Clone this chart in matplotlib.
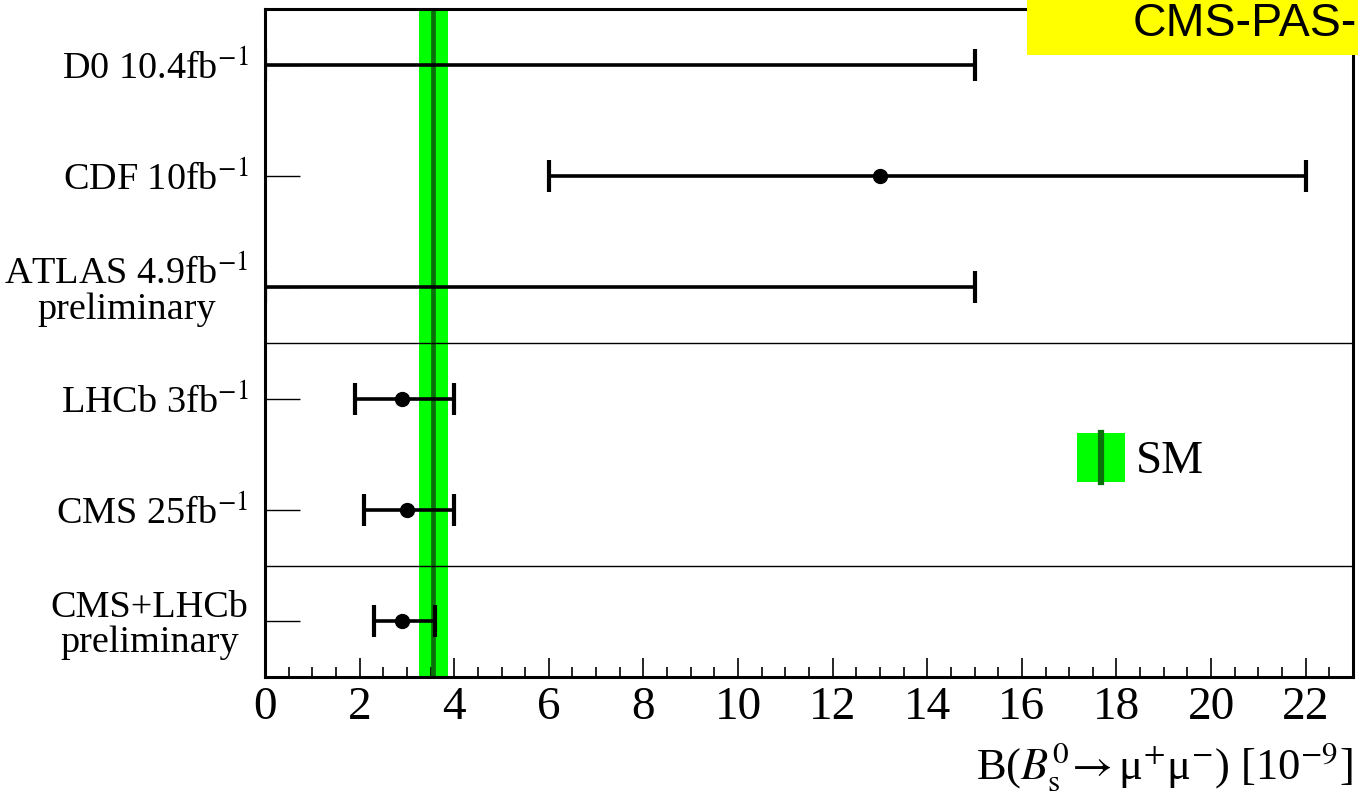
import numpy as np
import matplotlib
matplotlib.use("Agg")
import matplotlib.pyplot as plt
from matplotlib.patches import Rectangle

plt.rcParams['font.family'] = ['Liberation Serif', 'DejaVu Serif']
plt.rcParams['mathtext.fontset'] = 'stix'

# measurements of B(Bs -> mu mu) in units of 1e-9
labels = ["D0 10.4fb$^{-1}$", "CDF 10fb$^{-1}$", "ATLAS 4.9fb$^{-1}$\npreliminary",
          "LHCb 3fb$^{-1}$", "CMS 25fb$^{-1}$", "CMS+LHCb\npreliminary"]
central = [np.nan, 13.0, np.nan, 2.9, 3.0, 2.9]
low = [0.0, 6.0, 0.0, 1.9, 2.1, 2.3]
high = [15.0, 22.0, 15.0, 4.0, 4.0, 3.6]
separators = [3, 5]

# standard model prediction
sm_value = 3.56
sm_err = 0.30

W, H = 1358, 800
fig = plt.figure(figsize=(W / 100, H / 100), dpi=100)
ax = fig.add_axes([265 / W, 1 - 677 / H, (1353 - 265) / W, (677 - 9) / H])

ax.axvspan(sm_value - sm_err, sm_value + sm_err, color='#00ff00', lw=0, zorder=1)
ax.axvline(sm_value, color='#0a6e0a', lw=3.4, zorder=2)

ypos = np.arange(len(labels)) + 0.5
for i in range(len(labels)):
    if np.isnan(central[i]):
        ax.errorbar([low[i]], [ypos[i]], xerr=[[0], [high[i] - low[i]]], fmt='none',
                    ecolor='black', elinewidth=2.6, capsize=11.5, capthick=3.0, zorder=5)
    else:
        ax.errorbar([central[i]], [ypos[i]],
                    xerr=[[central[i] - low[i]], [high[i] - central[i]]],
                    fmt='o', color='black', ms=10, elinewidth=2.6, capsize=11.5,
                    capthick=3.0, zorder=5)

for s in separators:
    ax.axhline(s, color='black', lw=1.0, zorder=3)

ax.set_xlim(0, 23)
ax.set_ylim(6, 0)
ax.set_xticks(np.arange(0, 23, 2))
ax.set_xticks(np.arange(0, 23, 0.5), minor=True)
ax.set_yticks(ypos)
ax.set_yticklabels(labels, multialignment='center', fontsize=27.5, linespacing=1.0)
ax.tick_params(axis='x', which='major', direction='in', length=14, width=1.2,
               labelsize=34, pad=7)
ax.tick_params(axis='x', which='minor', direction='in', length=7, width=1.2)
ax.tick_params(axis='y', direction='in', length=25, width=1.0, pad=12)
for sp in ax.spines.values():
    sp.set_linewidth(2.2)

ax.set_xlabel("B(" + r"$B_{\mathrm{s}}^{0}\!\rightarrow$" + "μ" + r"$^{+}$" + "μ"
              + r"$^{-}$" + ") [10" + r"$^{-9}$" + "]", fontsize=32, loc='right',
              labelpad=8)

# legend entry for the SM band
ax.add_patch(Rectangle((0.746, 0.292), 0.044, 0.073, transform=ax.transAxes,
                       color='#00ff00', lw=0, clip_on=False))
ax.plot([0.768, 0.768], [0.292, 0.365], transform=ax.transAxes, color='#0a6e0a',
        lw=4.5)
ax.text(0.800, 0.322, "SM", transform=ax.transAxes, fontsize=34, va='center',
        ha='left')

# yellow tag in the corner
fig.patches.append(Rectangle((1027 / W, 1 - 55 / H), (W - 1027) / W, 55 / H,
                             transform=fig.transFigure, color='#ffff00', lw=0,
                             zorder=10))
fig.text(1357 / W, 1 - 36 / H, "CMS-PAS-", ha='right', va='baseline', fontsize=33.5,
         family='Liberation Sans', zorder=11)

fig.savefig("out.png", dpi=100)
